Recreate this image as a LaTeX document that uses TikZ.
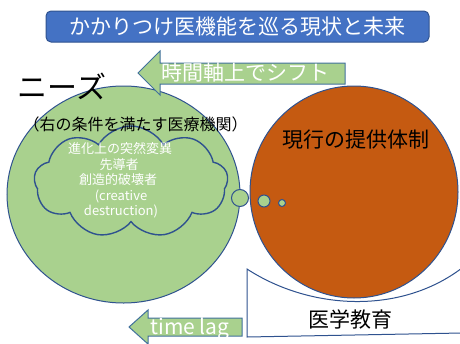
\documentclass[tikz,border=0pt]{standalone}
\usepackage{fontspec}
\setmainfont{Noto Sans CJK JP}
\usetikzlibrary{shapes.geometric,shapes.symbols}
\definecolor{tblue}{HTML}{4472C4}
\definecolor{tborder}{HTML}{2F528F}
\definecolor{tgreen}{HTML}{A9D18E}
\definecolor{torange}{HTML}{C55A11}
\definecolor{tedge}{HTML}{41719C}
\tikzset{
  fs/.style={font=\fontsize{#1}{#1}\selectfont},
  lbl/.style={inner sep=0pt, anchor=base},
  shapeline/.style={draw=tborder, line width=1pt},
  arrowshape/.style={fill=tgreen, draw=tedge, line width=1pt},
  bubble/.style={circle, fill=tgreen, shapeline, inner sep=0pt},
}
\begin{document}
\begin{tikzpicture}[x=1pt,y=-1pt]
\useasboundingbox (0,0) rectangle (460,343);
\begin{scope}
\clip (0,0) rectangle (460,343);
% title
\node[fill=tblue, draw=tborder, line width=1pt, rounded corners=5pt,
      minimum width=383pt, minimum height=31pt, inner sep=0pt] (title) at (237.5,26.5) {};
\node[lbl, fs=21, text=white] (titletext) at (237.5,34.3) {かかりつけ医機能を巡る現状と未来};

% circles
\node[ellipse, fill=tgreen, shapeline, minimum width=233pt, minimum height=217pt, inner sep=0pt] (needs) at (123.5,194.5) {};
\node[ellipse, fill=torange, shapeline, minimum width=208pt, minimum height=212pt, inner sep=0pt] (current) at (354,192) {};

% cloud
\node[cloud, cloud puffs=9, cloud puff arc=120, cloud ignores aspect, draw=tborder, line width=1.4pt,
      minimum width=194pt, minimum height=112pt, inner sep=0pt] (cloud) at (131,182) {};
\node[lbl, fs=13, text=white] (c1) at (120,153.5) {進化上の突然変異};
\node[lbl, fs=13, text=white] (c2) at (119,169) {先導者};
\node[lbl, fs=13, text=white] (c3) at (118,184.5) {創造的破壊者};
\node[lbl, fs=13, text=white] (c4) at (121,200) {(creative};
\node[lbl, fs=13, text=white] (c5) at (121,215.5) {destruction)};

% thought bubbles
\node[bubble, minimum size=17pt] (b1) at (240,198) {};
\node[bubble, minimum size=12pt] (b2) at (264,201) {};
\node[bubble, minimum size=7pt] (b3) at (282,203) {};

% shift arrow
\draw[arrowshape] (138,73) -- (160,51) -- (160,63) -- (345,63) -- (345,84) -- (160,84) -- (160,95) -- cycle;
\node[lbl, fs=21, text=white] (shift) at (245.5,80.3) {時間軸上でシフト};

% labels
\node[lbl, fs=30] (needslbl) at (62,98) {ニーズ};
\node[lbl, fs=16] (cond) at (135.5,130.9) {（右の条件を満たす医療機関）};
\node[lbl, fs=21] (curlbl) at (356,147.8) {現行の提供体制};

% medical education shape
\draw[fill=white, shapeline] (247,269) .. controls (310,310) and (400,315) .. (462,268)
  -- (462,333) -- (247,337) -- cycle;
\node[lbl, fs=21] (edu) at (350.5,327.8) {医学教育};

% time lag arrow
\draw[arrowshape] (129,327) -- (148,310) -- (148,318) -- (242,318) -- (242,336) -- (148,336) -- (148,344) -- cycle;
\node[lbl, fs=21, text=white] (lag) at (190,334) {time lag};
\end{scope}
\end{tikzpicture}
\end{document}
